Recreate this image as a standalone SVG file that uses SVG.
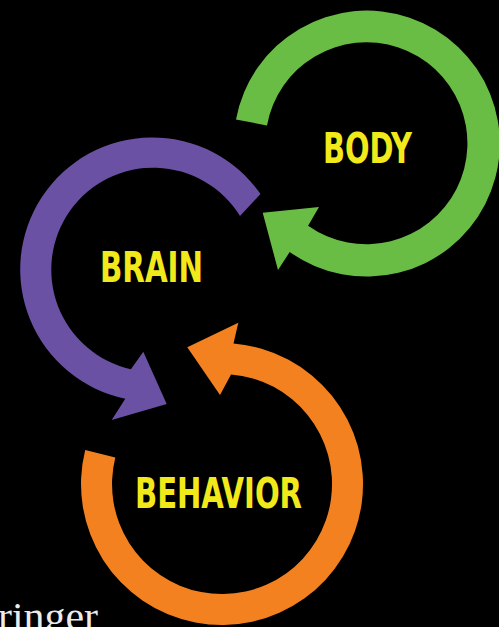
<svg xmlns="http://www.w3.org/2000/svg" width="499" height="627" viewBox="0 0 499 627">
  <style>
    .lbl { font-family: "Liberation Sans Narrow", "DejaVu Sans Condensed", "Liberation Sans", sans-serif; font-weight: bold; font-size: 42px; fill: #f2e91a; text-anchor: middle; }
    .green { fill: #69bd45; }
    .purple { fill: #6a51a3; }
    .orange { fill: #f48120; }
    .foot { font-family: "Liberation Serif", "DejaVu Serif", serif; font-size: 40px; fill: #ececec; }
  </style>
  <rect x="0" y="0" width="499" height="627" fill="#000"/>
  <g id="connectors">
    <path id="ring-body" class="green" d="M 236,119.5 A133,133 0 1 1 289.7,252 L 278,270 L 262.7,212.7 L 319,207 L 308.1,225.7 A101,101 0 1 0 267,125.5 Z"/>
    <path id="ring-brain" class="purple" d="M 260.5,194 A132,132 0 1 0 125.3,398.7 L 111.7,420 L 166.7,404 L 143.3,351.7 L 130.9,369.2 A102,102 0 1 1 240,216 Z"/>
    <path id="ring-behavior" class="orange" d="M 85.2,449.9 A141,141 0 1 0 233.5,343.5 L 238.3,322.7 L 187.3,347.3 L 220,395 L 231,374.4 A110,110 0 1 1 115.3,457.4 Z"/>
  </g>
  <g id="body">
    <text class="lbl" x="367.5" y="163" textLength="89" lengthAdjust="spacingAndGlyphs">BODY</text>
  </g>
  <g id="brain">
    <text class="lbl" x="151.5" y="282" textLength="103" lengthAdjust="spacingAndGlyphs">BRAIN</text>
  </g>
  <g id="behavior">
    <text class="lbl" x="218.5" y="508" textLength="167" lengthAdjust="spacingAndGlyphs">BEHAVIOR</text>
  </g>
  <g id="footer">
    <text class="foot" x="-2" y="630" textLength="100" lengthAdjust="spacingAndGlyphs">ringer</text>
  </g>
</svg>
